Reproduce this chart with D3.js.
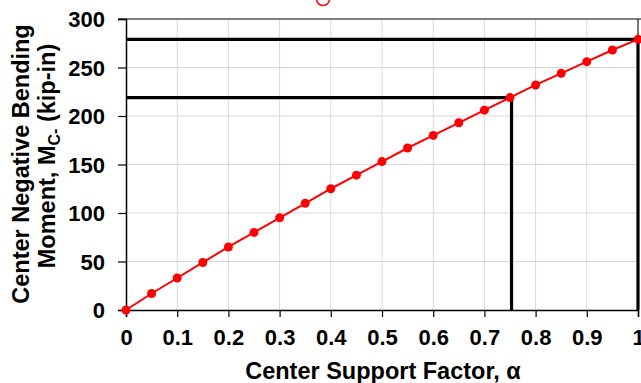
<!DOCTYPE html>
<html>
<head>
<meta charset="utf-8">
<script src="https://cdn.jsdelivr.net/npm/d3@7"></script>
<style>
  body { margin: 0; background: #fff; }
  svg { display: block; font-family: "Liberation Sans", Arial, sans-serif; font-weight: bold; }
</style>
</head>
<body>
<div class="chart"></div>
<script>
// center support factor vs. center negative moment
var alphaVals = [0, 0.05, 0.1, 0.15, 0.2, 0.25, 0.3, 0.35, 0.4, 0.45, 0.5,
                 0.55, 0.6, 0.65, 0.7, 0.75, 0.8, 0.85, 0.9, 0.95, 1];
var momentVals = [0, 17, 33, 49, 65, 80, 95, 110, 125, 139, 153,
                  167, 180, 193, 206, 219, 232, 244, 256, 268, 279];

// guide lines: [alpha, moment]
var guides = [[0.753, 219], [1, 279]];

var xTicks = [0, 0.1, 0.2, 0.3, 0.4, 0.5, 0.6, 0.7, 0.8, 0.9, 1];
var yTicks = [0, 50, 100, 150, 200, 250, 300];

var w = 641, h = 383;
var margin = {top: 19, right: 3, bottom: 73, left: 126};

var svg = d3.select("div.chart").append("svg")
    .attr("width", w)
    .attr("height", h);

var x = d3.scaleLinear().domain([0, 1]).range([margin.left, w - margin.right]);
var y = d3.scaleLinear().domain([0, 300]).range([h - margin.bottom, margin.top]);

//gridlines
svg.append("g").selectAll("line.gx")
    .data(xTicks.slice(1))
    .join("line")
    .attr("x1", d => x(d)).attr("x2", d => x(d))
    .attr("y1", y(0)).attr("y2", y(300))
    .attr("stroke", "#d9d9d9").attr("stroke-width", 1);

svg.append("g").selectAll("line.gy")
    .data(yTicks.slice(1))
    .join("line")
    .attr("x1", x(0)).attr("x2", x(1))
    .attr("y1", d => y(d)).attr("y2", d => y(d))
    .attr("stroke", "#d9d9d9").attr("stroke-width", 1);

//frame top and right
svg.append("line")
    .attr("x1", x(0) - 8).attr("x2", w)
    .attr("y1", y(300)).attr("y2", y(300))
    .attr("stroke", "#808080").attr("stroke-width", 2);
svg.append("line")
    .attr("x1", x(1)).attr("x2", x(1))
    .attr("y1", y(300)).attr("y2", y(0))
    .attr("stroke", "#000").attr("stroke-width", 1);

//axes
var xAxis = svg.append("g")
    .attr("transform", `translate(0,${y(0)})`)
    .call(d3.axisBottom(x).tickValues(xTicks).tickFormat(d3.format("")).tickSize(7).tickPadding(12));
var yAxis = svg.append("g")
    .attr("transform", `translate(${x(0)},0)`)
    .call(d3.axisLeft(y).tickValues(yTicks).tickSize(8).tickPadding(13));

[xAxis, yAxis].forEach(function(g){
  g.select(".domain").attr("stroke", "#000").attr("stroke-width", 1.5);
  g.selectAll(".tick line").attr("stroke", "#000").attr("stroke-width", 1.2);
  g.selectAll(".tick text")
    .attr("fill", "#000")
    .style("font-size", "22px")
    .style("font-weight", "bold")
    .style("font-family", "'Liberation Sans', Arial, sans-serif");
});
yAxis.selectAll(".tick text").attr("dy", "0.36em");

//guide lines
svg.append("g").selectAll("path.guide")
    .data(guides)
    .join("path")
    .attr("d", d => `M${x(0)},${y(d[1])}H${x(d[0])}V${y(0)}`)
    .attr("fill", "none")
    .attr("stroke", "#000")
    .attr("stroke-width", 3.2);

//data series
var data = alphaVals.map((a, i) => ({a: a, m: momentVals[i]}));
var line = d3.line().x(d => x(d.a)).y(d => y(d.m));

svg.append("path")
    .datum(data)
    .attr("d", line)
    .attr("fill", "none")
    .attr("stroke", "#ff0000")
    .attr("stroke-width", 2);

svg.append("g").selectAll("circle")
    .data(data)
    .join("circle")
    .attr("cx", d => x(d.a))
    .attr("cy", d => y(d.m))
    .attr("r", 4.5)
    .attr("fill", "#ff0000");

//clipped legend marker at top
svg.append("circle")
    .attr("cx", 323).attr("cy", -1)
    .attr("r", 6.5)
    .attr("fill", "none")
    .attr("stroke", "#ff0000")
    .attr("stroke-width", 1.5);

//axis titles
svg.append("text")
    .attr("x", 383)
    .attr("y", 379)
    .attr("text-anchor", "middle")
    .style("font-size", "23.5px")
    .text("Center Support Factor, α");

svg.append("text")
    .attr("transform", "translate(29,164) rotate(-90)")
    .attr("text-anchor", "middle")
    .style("font-size", "23.5px")
    .text("Center Negative Bending");

var yt2 = svg.append("text")
    .attr("transform", "translate(55,156) rotate(-90)")
    .attr("text-anchor", "middle")
    .style("font-size", "23.5px");
yt2.append("tspan").text("Moment, M");
yt2.append("tspan").attr("dy", 5).style("font-size", "16px").text("C-");
yt2.append("tspan").attr("dy", -5).text(" (kip-in)");
</script>
</body>
</html>
